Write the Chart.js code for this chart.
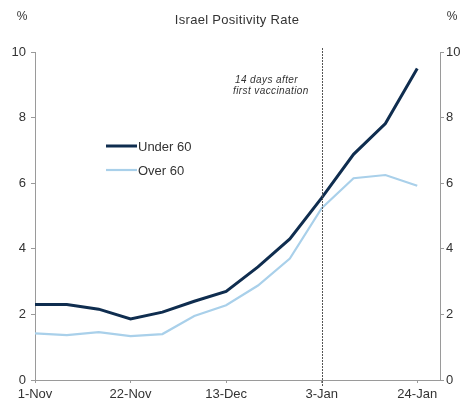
<!DOCTYPE html>
<html>
<head>
<meta charset="utf-8">
<script src="https://cdn.jsdelivr.net/npm/chart.js@4/dist/chart.umd.min.js"></script>
<style>
  html, body { margin: 0; padding: 0; background: #fff; }
  #wrap { width: 467px; height: 401px; position: relative; }
</style>
</head>
<body>
<div id="wrap"><canvas id="chart"></canvas></div>
<script>
// weekly readings, days counted from 1-Nov
const days     = [ 0, 7, 14, 21, 28, 35, 42, 49, 56, 63, 70, 77, 84 ];
const under60  = [ 2.30, 2.30, 2.16, 1.86, 2.07, 2.40, 2.70, 3.45, 4.30, 5.55, 6.88, 7.82, 9.50 ];
const over60   = [ 1.42, 1.37, 1.46, 1.34, 1.40, 1.95, 2.28, 2.88, 3.70, 5.24, 6.15, 6.25, 5.92 ];

const tickDays   = [ 0, 21, 42, 63, 84 ];
const tickLabels = [ '1-Nov', '22-Nov', '13-Dec', '3-Jan', '24-Jan' ];
const yTicks     = [ 0, 2, 4, 6, 8, 10 ];
const markerDay  = 63;

const DARK  = '#0f2d4f';
const LIGHT = '#a9d0ea';
const TEXT  = '#333333';
const AXIS  = '#9a9a9a';
const FONT  = 'Arial, "Liberation Sans", sans-serif';

function toPoints( ys )
{
    return ys.map( ( y, i ) => ( { x : days[ i ], y : y } ) );
}

// title, % units, legend, vaccination marker
const extras = {
    id : 'extras',
    afterDraw( chart )
    {
        const ctx = chart.ctx;
        const x = chart.scales.x;
        ctx.save();

        ctx.fillStyle = TEXT;
        ctx.textBaseline = 'middle';
        ctx.textAlign = 'center';
        ctx.font = '13px ' + FONT;
        ctx.letterSpacing = '0.3px';
        ctx.fillText( 'Israel Positivity Rate', 237, 20 );
        ctx.letterSpacing = '0px';
        ctx.font = '12px ' + FONT;
        ctx.fillText( '%', 22, 17 );
        ctx.fillText( '%', 452, 17 );

        // dotted marker line at 3-Jan
        const mx = Math.round( x.getPixelForValue( markerDay ) ) + 0.5;
        ctx.strokeStyle = '#555';
        ctx.lineWidth = 1;
        ctx.setLineDash( [ 2, 1 ] );
        ctx.beginPath();
        ctx.moveTo( mx, 48 );
        ctx.lineTo( mx, 386 );
        ctx.stroke();
        ctx.setLineDash( [] );

        ctx.textAlign = 'left';
        ctx.font = 'italic 10px ' + FONT;
        ctx.letterSpacing = '0.4px';
        ctx.fillText( '14 days after', 235, 80 );
        ctx.fillText( 'first vaccination', 233, 91 );
        ctx.letterSpacing = '0px';

        // legend
        const items = [
            { label : 'Under 60', color : DARK,  width : 3,   y : 146 },
            { label : 'Over 60',  color : LIGHT, width : 2.2, y : 170 },
        ];
        ctx.font = '13px ' + FONT;
        items.forEach( it =>
        {
            ctx.strokeStyle = it.color;
            ctx.lineWidth = it.width;
            ctx.beginPath();
            ctx.moveTo( 106, it.y );
            ctx.lineTo( 137, it.y );
            ctx.stroke();
            ctx.fillStyle = TEXT;
            ctx.fillText( it.label, 138, it.y + 1 );
        } );

        ctx.restore();
    }
};

const yBase = {
    type   : 'linear',
    min    : 0,
    max    : 10,
    border : { display : true, color : AXIS, width : 1 },
    grid   : { display : true, drawOnChartArea : false, drawTicks : true, tickLength : 4, color : AXIS },
    afterBuildTicks : s => { s.ticks = yTicks.map( v => ( { value : v } ) ); },
};

new Chart( document.getElementById( 'chart' ), {
    type : 'line',
    data : {
        datasets : [
            { label : 'Under 60', data : toPoints( under60 ), borderColor : DARK,  borderWidth : 3,   yAxisID : 'y' },
            { label : 'Over 60',  data : toPoints( over60 ),  borderColor : LIGHT, borderWidth : 2.2, yAxisID : 'y' },
        ]
    },
    options : {
        responsive : true,
        maintainAspectRatio : false,
        animation : false,
        events : [],
        layout : { padding : { top : 52, left : 0, right : 0, bottom : 0 } },
        elements : { point : { radius : 0 }, line : { tension : 0 } },
        plugins : { legend : { display : false }, tooltip : { enabled : false } },
        scales : {
            x : {
                type : 'linear',
                min  : 0,
                max  : 89,
                border : { display : true, color : AXIS, width : 1 },
                grid : { display : true, drawOnChartArea : false, drawTicks : true, tickLength : 3, color : AXIS },
                afterBuildTicks : s => { s.ticks = tickDays.map( v => ( { value : v } ) ); },
                afterFit : s => { s.height = 21; },
                ticks : {
                    color : TEXT,
                    font : { family : FONT, size : 13 },
                    padding : 4,
                    maxRotation : 0,
                    autoSkip : false,
                    callback : v => tickLabels[ tickDays.indexOf( v ) ] || '',
                },
            },
            y : Object.assign( {}, yBase, {
                position : 'left',
                afterFit : s => { s.width = 35; },
                ticks : { color : TEXT, font : { family : FONT, size : 13 }, padding : 5 },
            } ),
            y2 : Object.assign( {}, yBase, {
                position : 'right',
                afterFit : s => { s.width = 27; },
                ticks : { color : TEXT, font : { family : FONT, size : 13 }, padding : 2 },
            } ),
        }
    },
    plugins : [ extras ]
} );
</script>
</body>
</html>
